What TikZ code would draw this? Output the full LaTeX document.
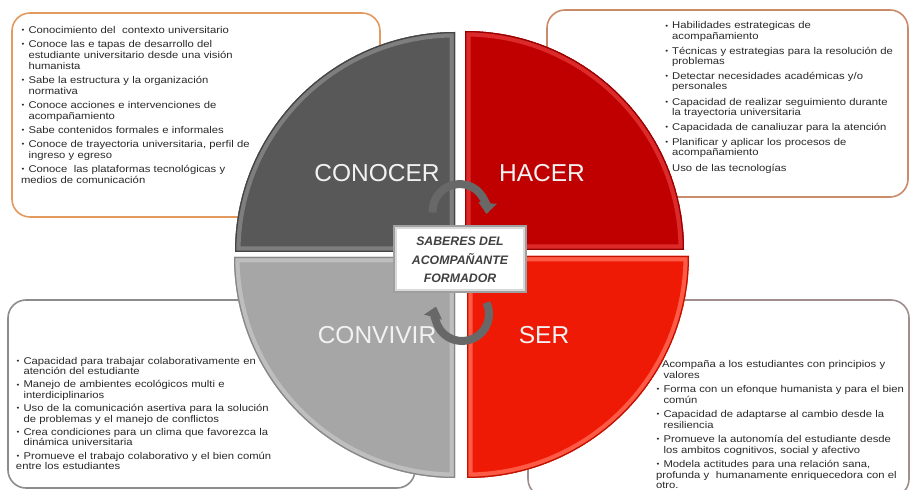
\documentclass[tikz,border=0pt]{standalone}
\usepackage{fontspec}
\setmainfont{Liberation Sans}
\newfontfamily\boxfont[FakeStretch=1.15]{Liberation Sans}
\usetikzlibrary{arrows.meta}
\definecolor{txtcol}{HTML}{2A2A2A}
\definecolor{bTL}{HTML}{E39A5E}
\definecolor{bTR}{HTML}{C98B6A}
\definecolor{bBL}{HTML}{8C8C8C}
\definecolor{bBR}{HTML}{A08E8E}
\definecolor{conM}{HTML}{585858}
\definecolor{conR}{HTML}{7E7E7E}
\definecolor{conE}{HTML}{444444}
\definecolor{hacM}{HTML}{C00000}
\definecolor{hacR}{HTML}{DC2A2A}
\definecolor{hacE}{HTML}{980000}
\definecolor{covM}{HTML}{A6A6A6}
\definecolor{covR}{HTML}{BEBEBE}
\definecolor{covE}{HTML}{878787}
\definecolor{serM}{HTML}{EF1A05}
\definecolor{serR}{HTML}{FF5A45}
\definecolor{serE}{HTML}{C01000}
\definecolor{arrcol}{HTML}{686868}
\definecolor{ctxt}{HTML}{404040}
\newlength\bul
\setlength\bul{7.5pt}
\newcommand\smallbul{\raisebox{0.8pt}{\fontsize{7}{7}\selectfont•}}
\newcommand\itm[1]{\par\hangindent=\bul\hangafter=1\noindent\makebox[\bul][l]{\rule{0pt}{8pt}\hspace{0.6pt}\smallbul}#1}
\newcommand\itmn[2][\bul]{\par\hangindent=\bul\hangafter=1\noindent\makebox[#1][l]{\rule{0pt}{8pt}}#2}
\newcommand\igap[1]{\par\vspace{#1}}
\newcommand\pieq[7]{%
  \begin{scope}
    \clip (#1,#2) -- ++(#3:#4) arc[start angle=#3, end angle=#3+90, radius=#4] -- cycle;
    \fill[#5] (#1,#2) -- ++(#3:#4) arc[start angle=#3, end angle=#3+90, radius=#4] -- cycle;
    \draw[#6, line width=11pt] (#1,#2) -- ++(#3:#4) arc[start angle=#3, end angle=#3+90, radius=#4] -- cycle;
    \draw[#7, line width=2.5pt] (#1,#2) -- ++(#3:#4) arc[start angle=#3, end angle=#3+90, radius=#4] -- cycle;
  \end{scope}}
\begin{document}
\begin{tikzpicture}[x=1pt,y=1pt,
  infobox/.style={line width=1.6pt, rounded corners=18pt, fill=white},
  txt/.style={anchor=north west, inner sep=0pt, text width=300pt, align=left,
    font=\boxfont\fontsize{9.8}{#1}\selectfont, text=txtcol},
  qlabel/.style={font=\fontsize{24.5}{28}\selectfont, text=white!95!black, inner sep=0pt},
  arr/.style={line width=8pt, color=arrcol, -{Triangle[width=18pt,length=11pt]}}]
\useasboundingbox (0,0) rectangle (911,490);
\clip (0,0) rectangle (911,490);
\fill[white] (0,0) rectangle (911,490);
% information boxes
\draw[infobox, draw=bTL] (12,477) rectangle (380,273);
\draw[infobox, draw=bTR] (547,480) rectangle (908,293);
\draw[infobox, draw=bBL] (8,190) rectangle (415,2);
\draw[infobox, draw=bBR] (528,190) rectangle (909,-7);
% pie quadrants
\pieq{455}{238}{90}{220}{conM}{conR}{conE}
\pieq{465}{240}{0}{219}{hacM}{hacR}{hacE}
\pieq{455}{233}{180}{221}{covM}{covR}{covE}
\pieq{467}{234}{270}{222}{serM}{serR}{serE}
\node[qlabel] (lcon) at (377,317) {CONOCER};
\node[qlabel] (lhac) at (542,317) {HACER};
\node[qlabel] (lcov) at (377,155) {CONVIVIR};
\node[qlabel] (lser) at (544,155) {SER};
% cycle arrows
\coordinate (a1) at (432.6,277.5);
\coordinate (a2) at (486.5,187.4);
\draw[arr] (a1) arc[start angle=183, end angle=-6, radius=27];
\draw[arr] (a2) arc[start angle=25, end angle=-196, radius=27];
% centre box
\fill[gray!75] (393,197) rectangle (527,265);
\fill[gray!30] (395,199) rectangle (525,263);
\node[fill=white, minimum width=126pt, minimum height=60pt, inner sep=0pt]
  (centre) at (460,231) {};
\node[align=center, text=ctxt, inner sep=0pt,
  font=\bfseries\itshape\fontsize{12.3}{18.3}\selectfont]
  (centretxt) at (460,230) {SABERES DEL\\ACOMPAÑANTE\\FORMADOR};
% texts
\node[txt=11pt] (tl) at (20.8,467.5) {%
\itm{Conocimiento del\ \ contexto universitario}\igap{3pt}%
\itm{Conoce las e tapas de desarrollo del\newline estudiante universitario desde una visión\newline humanista}\igap{3pt}%
\itm{Sabe la estructura y la organización\newline normativa}\igap{3pt}%
\itm{Conoce acciones e intervenciones de\newline acompañamiento}\igap{3pt}%
\itm{Sabe contenidos formales e informales}\igap{3pt}%
\itm{Conoce de trayectoria universitaria, perfil de\newline ingreso y egreso}\igap{3pt}%
\itm{Conoce\ \ las plataformas tecnológicas y\newline medios de comunicación}};
\node[txt=10.2pt] (tr) at (664.5,471.4) {%
\itm{Habilidades estrategicas de\newline acompañamiento}\igap{5pt}%
\itm{Técnicas y estrategias para la resolución de\newline problemas}\igap{5pt}%
\itm{Detectar necesidades académicas y/o\newline personales}\igap{5pt}%
\itm{Capacidad de realizar seguimiento durante\newline la trayectoria universitaria}\igap{5pt}%
\itm{Capacidada de canaliuzar para la atención}\igap{5pt}%
\itm{Planificar y aplicar los procesos de\newline acompañamiento}\igap{5pt}%
\itmn{Uso de las tecnologías}};
\node[txt=10.4pt] (bl) at (15.8,136.5) {%
\itm{Capacidad para trabajar colaborativamente en\newline atención del estudiante}\igap{3pt}%
\itm{Manejo de ambientes ecológicos multi e\newline interdiciplinarios}\igap{3pt}%
\itm{Uso de la comunicación asertiva para la solución\newline de problemas y el manejo de conflictos}\igap{3pt}%
\itm{Crea condiciones para un clima que favorezca la\newline dinámica universitaria}\igap{3pt}%
\itm{Promueve el trabajo colaborativo y el bien común\newline entre los estudiantes}};
\node[txt=10.5pt] (br) at (655.8,133) {%
\itmn[6pt]{Acompaña a los estudiantes con principios y\newline valores}\igap{4pt}%
\itm{Forma con un efonque humanista y para el bien\newline común}\igap{4pt}%
\itm{Capacidad de adaptarse al cambio desde la\newline resiliencia}\igap{4pt}%
\itm{Promueve la autonomía del estudiante desde\newline los ambitos cognitivos, social y afectivo}\igap{4pt}%
\itm{Modela actitudes para una relación sana,\newline profunda y\ \ humanamente enriquecedora con el\newline otro.}};
\end{tikzpicture}
\end{document}
